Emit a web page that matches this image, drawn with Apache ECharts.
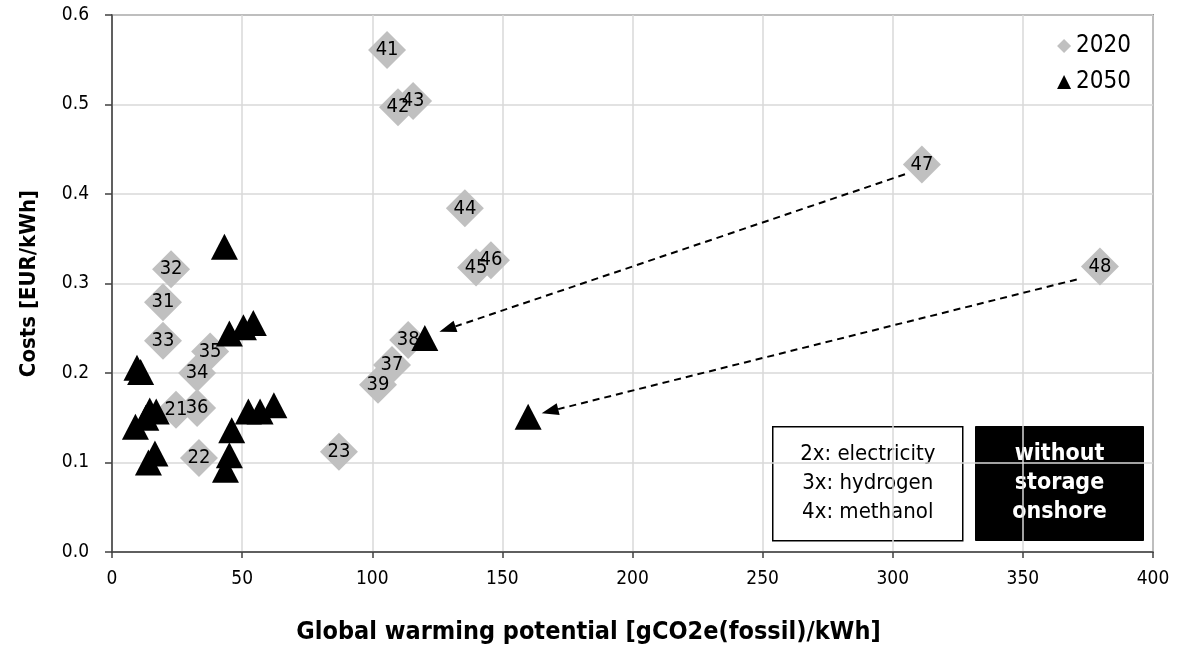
<!DOCTYPE html>
<html>
<head>
<meta charset="utf-8">
<title>Costs vs. global warming potential</title>
<script src="https://cdn.jsdelivr.net/npm/echarts@6/dist/echarts.min.js"></script>
<style>
  html, body { margin: 0; padding: 0; background: #fff; }
  #chart { width: 1178px; height: 650px; }
</style>
</head>
<body>
<div id="chart"></div>
<script>
// 2020 configurations (id, GWP, cost)
const ids2020  = [41, 42, 43, 44, 45, 46, 47, 48, 38, 37, 39, 23, 32, 31, 33, 35, 34, 21, 36, 22];
const gwp2020  = [105.7, 109.9, 115.7, 135.6, 139.9, 145.6, 311.2, 379.6, 113.8, 107.6, 102.2, 87.2, 22.7, 19.6, 19.6, 37.7, 32.7, 24.6, 32.7, 33.4];
const cost2020 = [0.561, 0.497, 0.504, 0.384, 0.318, 0.326, 0.433, 0.319, 0.237, 0.209, 0.187, 0.112, 0.316, 0.279, 0.236, 0.224, 0.200, 0.159, 0.161, 0.105];

// 2050 configurations (GWP, cost)
const gwp2050  = [43.2, 45.1, 50.5, 54.3, 9.6, 11.0, 9.0, 13.0, 14.5, 17.0, 16.5, 14.0, 52.4, 56.9, 62.2, 46.0, 45.1, 43.6, 120.2, 159.9];
const cost2050 = [0.341, 0.244, 0.251, 0.256, 0.206, 0.201, 0.140, 0.150, 0.158, 0.157, 0.110, 0.100, 0.157, 0.157, 0.164, 0.136, 0.108, 0.092, 0.239, 0.151];

// Dashed arrows: [fromGwp, fromCost, tipGwp, tipCost]
const arrows = [
  [304.7, 0.422, 125.8, 0.246],
  [370.7, 0.3045, 165.1, 0.155]
];

const xTicks = { min: 0, max: 400, interval: 50 };
const yTicks = { min: 0, max: 0.6, interval: 0.1 };

const seriesNames = ['2020', '2050'];
const boxLines = ['2x: electricity', '3x: hydrogen', '4x: methanol'];
const tagLines = ['without', 'storage', 'onshore'];

const FONT = "'DejaVu Sans Condensed', 'DejaVu Sans'";
const HEAD_LEN = 17;   // arrowhead length in px
const HEAD_W = 12;     // arrowhead width in px

const data2020 = ids2020.map((id, i) => [gwp2020[i], cost2020[i], id]);
const data2050 = gwp2050.map((g, i) => [g, cost2050[i]]);

const chart = echarts.init(document.getElementById('chart'), null, { renderer: 'canvas' });

chart.setOption({
  animation: false,
  backgroundColor: '#ffffff',
  textStyle: { fontFamily: FONT, color: '#000' },
  grid: {
    left: 112, right: 25, top: 15, bottom: 98,
    show: true, borderColor: '#404040', borderWidth: 1.5, backgroundColor: 'transparent'
  },
  legend: {
    data: seriesNames,
    orient: 'vertical',
    right: 42, top: 29,
    itemGap: 12,
    itemWidth: 14, itemHeight: 14,
    textStyle: { fontFamily: FONT, fontSize: 24, color: '#000' },
    selectedMode: false
  },
  xAxis: {
    type: 'value',
    min: xTicks.min, max: xTicks.max, interval: xTicks.interval,
    name: 'Global warming potential [gCO2e(fossil)/kWh]',
    nameLocation: 'middle', nameGap: 68,
    nameTextStyle: {
      fontFamily: FONT, fontSize: 25, fontWeight: 'bold', color: '#000',
      padding: [0, 88, 0, 0]
    },
    axisLine: { show: true, onZero: false, lineStyle: { color: '#404040', width: 1.5 } },
    axisTick: { show: true, length: 6, lineStyle: { color: '#404040', width: 1.5 } },
    axisLabel: { fontFamily: FONT, fontSize: 19, color: '#000', margin: 18 },
    splitLine: { show: true, lineStyle: { color: '#d9d9d9', width: 1.5 } }
  },
  yAxis: {
    type: 'value',
    min: yTicks.min, max: yTicks.max, interval: yTicks.interval,
    name: 'Costs [EUR/kWh]',
    nameLocation: 'middle', nameGap: 72,
    nameTextStyle: { fontFamily: FONT, fontSize: 22, fontWeight: 'bold', color: '#000' },
    axisLine: { show: true, onZero: false, lineStyle: { color: '#404040', width: 1.5 } },
    axisTick: { show: true, length: 7, lineStyle: { color: '#404040', width: 1.5 } },
    axisLabel: {
      fontFamily: FONT, fontSize: 19, color: '#000', margin: 23,
      formatter: v => v.toFixed(1)
    },
    splitLine: { show: true, lineStyle: { color: '#d9d9d9', width: 1.5 } }
  },
  series: [
    {
      name: seriesNames[0],
      type: 'scatter',
      z: 2,
      symbol: 'diamond',
      symbolSize: 38,
      itemStyle: { color: '#c0c0c0', opacity: 1 },
      label: {
        show: true,
        position: 'inside',
        fontFamily: FONT, fontSize: 20, color: '#000',
        formatter: p => String(p.value[2])
      },
      emphasis: { disabled: true },
      data: data2020
    },
    {
      name: seriesNames[1],
      type: 'scatter',
      z: 3,
      symbol: 'triangle',
      symbolSize: [27, 26],
      itemStyle: { color: '#000', opacity: 1 },
      emphasis: { disabled: true },
      data: data2050
    }
  ],
  graphic: [
    {
      type: 'group', left: 772, top: 426,
      children: [
        {
          type: 'rect', shape: { x: 0, y: 0, width: 190, height: 114 },
          style: { fill: '#fff', stroke: '#000', lineWidth: 1.5 }
        },
        {
          type: 'text', x: 95, y: 57,
          style: {
            text: boxLines.join('\n'),
            fontFamily: FONT, fontSize: 22, lineHeight: 29,
            fill: '#000', align: 'center', verticalAlign: 'middle'
          }
        }
      ]
    },
    {
      type: 'group', left: 975, top: 426,
      children: [
        {
          type: 'rect', shape: { x: 0, y: 0, width: 168, height: 114 },
          style: { fill: '#000', stroke: '#000', lineWidth: 1 }
        },
        {
          type: 'text', x: 84, y: 57,
          style: {
            text: tagLines.join('\n'),
            fontFamily: FONT, fontSize: 23, fontWeight: 'bold', lineHeight: 29,
            fill: '#fff', align: 'center', verticalAlign: 'middle'
          }
        }
      ]
    }
  ]
});

// Arrows: dashed shaft ends at the arrowhead base, head is a rotated triangle.
const heads = [];
const shafts = [];
arrows.forEach(a => {
  const p0 = chart.convertToPixel({ gridIndex: 0 }, [a[0], a[1]]);
  const p1 = chart.convertToPixel({ gridIndex: 0 }, [a[2], a[3]]);
  const dx = p1[0] - p0[0], dy = p1[1] - p0[1];
  const len = Math.hypot(dx, dy);
  const ux = dx / len, uy = dy / len;
  const center = [p1[0] - ux * HEAD_LEN / 2, p1[1] - uy * HEAD_LEN / 2];
  const base = [p1[0] - ux * HEAD_LEN, p1[1] - uy * HEAD_LEN];
  const rot = Math.atan2(-dy, dx) * 180 / Math.PI - 90;
  heads.push({
    value: chart.convertFromPixel({ gridIndex: 0 }, center),
    symbolRotate: rot
  });
  shafts.push([
    { coord: [a[0], a[1]] },
    { coord: chart.convertFromPixel({ gridIndex: 0 }, base) }
  ]);
});

chart.setOption({
  series: [
    {}, {},
    {
      name: 'arrows',
      type: 'scatter',
      z: 4,
      symbol: 'triangle',
      symbolSize: [HEAD_W, HEAD_LEN],
      itemStyle: { color: '#000', opacity: 1 },
      emphasis: { disabled: true },
      silent: true,
      data: heads,
      markLine: {
        silent: true,
        animation: false,
        symbol: ['none', 'none'],
        label: { show: false },
        lineStyle: { color: '#000', width: 2, type: [7, 5] },
        emphasis: { disabled: true },
        data: shafts
      }
    }
  ]
});
</script>
</body>
</html>
